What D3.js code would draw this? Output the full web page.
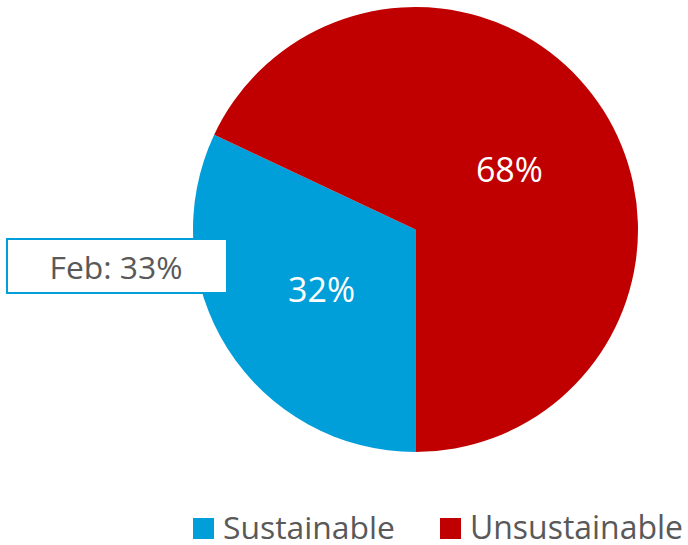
<!DOCTYPE html>
<html><head><meta charset="utf-8">
<script src="https://cdn.jsdelivr.net/npm/d3@7"></script>
<style>body{margin:0;background:#fff}svg{display:block}text{font-family:"Open Sans",Lato,sans-serif}</style>
</head><body>
<script>
const categories = ["Sustainable", "Unsustainable"];
const values = [32, 68];
const sliceLabels = ["32%", "68%"];
const colors = ["#009FDA", "#C00000"];
const calloutText = "Feb: 33%";

const W = 688, H = 545;
const cx = 415.5, cy = 229.5, R = 222.5;
const svg = d3.select("body").append("svg").attr("width", W).attr("height", H);

// scale a text's font size so that its width matches a target width
function fit(sel, target, base) {
  sel.attr("font-size", base);
  const w = sel.node().getComputedTextLength();
  if (w > 0) sel.attr("font-size", base * target / w);
  return sel;
}

const pie = d3.pie().sort(null).value(d => d)
  .startAngle(Math.PI).endAngle(3 * Math.PI);
const arcs = pie(values);
const arc = d3.arc().innerRadius(0).outerRadius(R);
const g = svg.append("g").attr("transform", `translate(${cx},${cy})`);
g.selectAll("path").data(arcs).join("path")
  .attr("d", arc).attr("fill", (d, i) => colors[i]);

const labelArc = d3.arc().innerRadius(R * 0.5).outerRadius(R * 0.5);
g.selectAll("text.lbl").data(arcs).join("text").attr("class", "lbl")
  .attr("x", d => labelArc.centroid(d)[0])
  .attr("y", d => labelArc.centroid(d)[1] + 12.5)
  .attr("text-anchor", "middle")
  .attr("fill", "#fff")
  .text((d, i) => sliceLabels[i])
  .each(function () { fit(d3.select(this), 67, 32); });

// callout
svg.append("rect").attr("x", 7).attr("y", 239).attr("width", 220).attr("height", 54)
  .attr("fill", "#fff").attr("stroke", "#009FDA").attr("stroke-width", 2);
fit(svg.append("text").attr("x", 116).attr("y", 279)
  .attr("text-anchor", "middle")
  .attr("fill", "#595959").text(calloutText), 133, 32);

// legend
const legX = [193, 440];
const legW = [172, 213];
const lg = svg.append("g");
categories.forEach((c, i) => {
  lg.append("rect").attr("x", legX[i]).attr("y", 518).attr("width", 21).attr("height", 21)
    .attr("fill", colors[i]);
  fit(lg.append("text").attr("x", legX[i] + 30).attr("y", 539)
    .attr("fill", "#595959").text(c), legW[i], 30);
});
</script>
</body></html>
